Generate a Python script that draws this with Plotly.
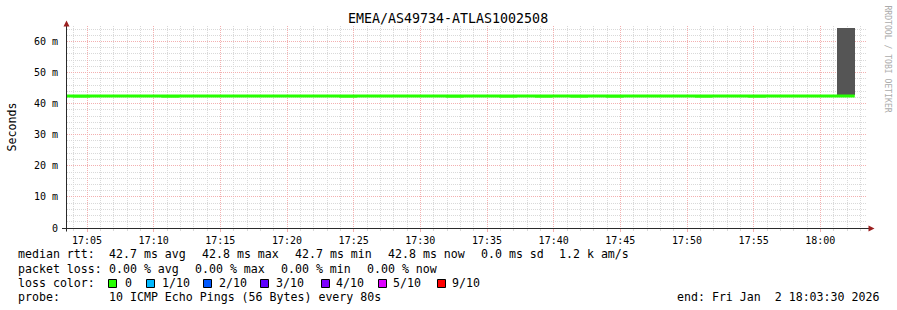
import pandas as pd
import plotly.graph_objects as go

# ---------------- data ----------------
STEP_S = 80
step_start = pd.date_range("2026-01-02 17:02:35", periods=45, freq=f"{STEP_S}s")
median_ms = [42.76, 42.70, 42.76, 42.76, 42.76, 42.76, 42.70, 42.76, 42.76, 42.76,
             42.76, 42.76, 42.76, 42.76, 42.76, 42.76, 42.70, 42.76, 42.76, 42.76,
             42.76, 42.76, 42.70, 42.76, 42.76, 42.70, 42.76, 42.70, 42.76, 42.70,
             42.76, 42.70, 42.76, 42.76, 42.76, 42.76, 42.70, 42.76, 42.76, 42.70,
             42.76, 42.76, 42.76, 42.76, 42.76]
smoke_max_ms = [None] * 44 + [64.2]

y_tick_vals = [0, 10, 20, 30, 40, 50, 60]
y_tick_text = ["0", "10 m", "20 m", "30 m", "40 m", "50 m", "60 m"]

title_text = "EMEA/AS49734-ATLAS1002508"
rtt_items = ["median rtt:", "42.7 ms avg", "42.8 ms max", "42.7 ms min", "42.8 ms now",
             "0.0 ms sd", "1.2 k am/s"]
loss_items = ["packet loss:", "0.00 % avg", "0.00 % max", "0.00 % min", "0.00 % now"]
loss_labels = ["0", "1/10", "2/10", "3/10", "4/10", "5/10", "9/10"]
loss_colors = ["#26ff00", "#00b8ff", "#0059ff", "#5e00ff", "#7e00ff", "#dd00ff", "#ff0000"]
probe_text = "10 ICMP Echo Pings (56 Bytes) every 80s"
end_text = "end: Fri Jan  2 18:03:30 2026"

# ---------------- layout geometry (pixels) ----------------
W, H = 897, 310
L, R, T, B = 67, 867, 26, 228
Y_MAX = 65.0
t_start = pd.Timestamp("2026-01-02 17:03:30")
t_end = pd.Timestamp("2026-01-02 18:03:30")

def xp(px):
    return (px - L) / (R - L)

def yp(py):
    return (B - py) / (B - T)

MONO = "DejaVu Sans Mono"
BAND_LO, BAND_HI = 0.75, 0.22
GREEN = loss_colors[0]

fig = go.Figure()

# smoke (dark bar)
bx, bbase, bh = [], [], []
for t, m, s in zip(step_start, median_ms, smoke_max_ms):
    if s is not None:
        bx.append(t + pd.Timedelta(seconds=STEP_S / 2))
        bbase.append(m)
        bh.append(s - m)
fig.add_trace(go.Bar(x=bx, y=bh, base=bbase, width=STEP_S * 1000,
                     marker=dict(color="#555555", line=dict(width=0)),
                     hoverinfo="skip", showlegend=False))

# median band (step shape)
xs = list(step_start) + [step_start[-1] + pd.Timedelta(seconds=STEP_S)]
med = median_ms + [median_ms[-1]]
fig.add_trace(go.Scatter(x=xs, y=[m - BAND_LO for m in med], mode="lines",
                         line=dict(width=0, shape="hv", color=GREEN),
                         hoverinfo="skip", showlegend=False))
fig.add_trace(go.Scatter(x=xs, y=[m + BAND_HI for m in med], mode="lines",
                         line=dict(width=0, shape="hv", color=GREEN),
                         fill="tonexty", fillcolor=GREEN,
                         hoverinfo="skip", showlegend=False))

MINOR_GRID = "#d9d9d9"
MAJOR_GRID = "#f3b0b0"

fig.update_xaxes(
    type="date", range=[t_start, t_end], showline=False, zeroline=False,
    tick0="2026-01-02 17:00:00", dtick=300000, tickformat="%H:%M",
    showgrid=True, gridcolor=MAJOR_GRID, griddash="1px,1px", gridwidth=1,
    ticks="outside", ticklen=3, tickcolor=MAJOR_GRID,
    tickfont=dict(family=MONO, size=10, color="#000000"),
    minor=dict(dtick=60000, tick0="2026-01-02 17:00:00", showgrid=True,
               gridcolor=MINOR_GRID, griddash="1px,1px", gridwidth=1,
               ticks="outside", ticklen=2, tickcolor=MINOR_GRID),
    fixedrange=True,
)
fig.update_yaxes(
    range=[0, Y_MAX], showline=False, zeroline=False,
    tickvals=y_tick_vals, ticktext=y_tick_text,
    showgrid=True, gridcolor=MAJOR_GRID, griddash="1px,1px", gridwidth=1,
    ticks="outside", ticklen=6, tickcolor="rgba(0,0,0,0)",
    tickfont=dict(family=MONO, size=10, color="#000000"),
    minor=dict(dtick=2, showgrid=True, gridcolor=MINOR_GRID,
               griddash="1px,1px", gridwidth=1),
    fixedrange=True,
)

shapes = []
AXIS_COLOR = "#2a2a2a"
ARROW_COLOR = "#9b1f1f"
# axis lines
shapes.append(dict(type="line", xref="paper", yref="paper",
                   x0=xp(62), x1=xp(869), y0=yp(228.5), y1=yp(228.5),
                   line=dict(color=AXIS_COLOR, width=1), layer="above"))
shapes.append(dict(type="line", xref="paper", yref="paper",
                   x0=xp(66.5), x1=xp(66.5), y0=yp(231.5), y1=yp(25),
                   line=dict(color=AXIS_COLOR, width=1), layer="above"))
# arrows
def tri(pts):
    return "M " + " L ".join(f"{xp(a)},{yp(b)}" for a, b in pts) + " Z"
shapes.append(dict(type="path", xref="paper", yref="paper",
                   path=tri([(63.5, 26.5), (69.5, 26.5), (66.5, 20.5)]),
                   fillcolor=ARROW_COLOR, line=dict(width=0), layer="above"))
shapes.append(dict(type="path", xref="paper", yref="paper",
                   path=tri([(868.5, 225.5), (868.5, 231.5), (874.5, 228.5)]),
                   fillcolor=ARROW_COLOR, line=dict(width=0), layer="above"))

# legend swatches
box_lefts = [108, 146, 203, 260, 321, 378, 437]
label_lefts = [123, 159.5, 216.5, 273.5, 334, 391, 449.5]
for bl, c in zip(box_lefts, loss_colors):
    shapes.append(dict(type="rect", xref="paper", yref="paper",
                       x0=xp(bl + 0.5), x1=xp(bl + 8.5), y0=yp(279.5), y1=yp(287.5),
                       fillcolor=c, line=dict(color="#000000", width=1)))

ann = []
def text(px, py, s, size=11.6, anchor="left", color="#000000", angle=0, yanchor="middle"):
    ann.append(dict(xref="paper", yref="paper", x=xp(px), y=yp(py),
                    text=s.replace(" ", "\u00a0"), showarrow=False,
                    xanchor=anchor, yanchor=yanchor, textangle=angle,
                    font=dict(family=MONO, size=size, color=color)))

text(448, 19, title_text, size=13.3, anchor="center")
text(11, 126.5, "Seconds", anchor="center", angle=-90)
text(887.5, 59, "RRDTOOL / TOBI OETIKER", size=8.1, anchor="center", angle=90, color="#ababab")

rtt_x = [15.5, 106.8, 199.5, 292.8, 386.2, 478.5, 557]
for x, s in zip(rtt_x, rtt_items):
    text(x, 254, s)
loss_x = [15.5, 106.8, 192.8, 278.8, 365.2]
for x, s in zip(loss_x, loss_items):
    text(x, 268.5, s)
text(15.5, 282.5, "loss color:")
for x, s in zip(label_lefts, loss_labels):
    text(x, 282.5, s)
text(15.5, 296.5, "probe:")
text(106.8, 296.5, probe_text)
text(881, 296.5, end_text, anchor="right")

fig.update_layout(
    width=W, height=H,
    margin=dict(l=L, r=W - R, t=T, b=H - B, pad=0),
    paper_bgcolor="#ffffff", plot_bgcolor="#ffffff",
    showlegend=False, bargap=0,
    shapes=shapes, annotations=ann,
    font=dict(family=MONO, color="#000000"),
)

fig.write_html("out.html", config={"displayModeBar": False})
